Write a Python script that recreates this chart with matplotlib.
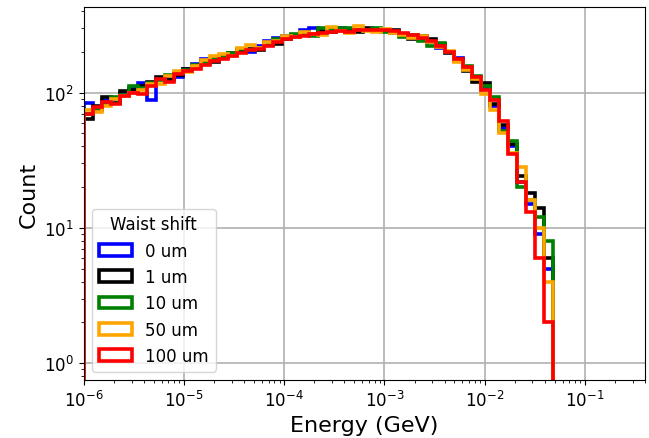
import numpy as np
import matplotlib
matplotlib.use("Agg")
import matplotlib.pyplot as plt

# bin edges (log spaced energy, GeV)
n_bins = 52
e_min, e_max = 1e-6, 0.048
edges = np.logspace(np.log10(e_min), np.log10(e_max), n_bins + 1)

labels = ["0 um", "1 um", "10 um", "50 um", "100 um"]
colors = ["blue", "black", "green", "orange", "red"]

counts_0 = [84, 74, 88, 90, 100, 108, 118, 88, 125, 128, 130, 150, 162, 178, 176, 182,
            190, 205, 200, 222, 240, 255, 262, 268, 290, 300, 285, 298, 300, 282, 290, 295,
            288, 290, 282, 272, 262, 250, 236, 215, 198, 180, 150, 128, 108, 80, 55, 40,
            22, 15, 9, 5]
counts_1 = [64, 80, 92, 84, 102, 104, 112, 120, 130, 124, 136, 150, 158, 170, 168, 182,
            195, 200, 210, 208, 226, 230, 250, 262, 268, 272, 290, 282, 292, 296, 280, 300,
            292, 285, 288, 270, 248, 262, 250, 228, 196, 176, 145, 120, 118, 82, 58, 42,
            24, 18, 14, 6]
counts_2 = [70, 76, 84, 92, 96, 112, 108, 118, 124, 134, 140, 148, 160, 166, 178, 188,
            195, 210, 206, 215, 232, 248, 255, 270, 276, 262, 300, 294, 302, 300, 290, 288,
            298, 280, 276, 258, 268, 242, 220, 232, 200, 170, 158, 132, 112, 92, 52, 44,
            20, 16, 12, 8]
counts_3 = [74, 72, 80, 90, 94, 100, 104, 116, 116, 132, 145, 142, 158, 175, 186, 192,
            188, 215, 225, 212, 238, 240, 262, 258, 280, 272, 268, 305, 285, 278, 312, 286,
            282, 295, 276, 265, 255, 264, 238, 218, 202, 168, 148, 125, 98, 74, 50, 36,
            28, 16, 10, 4]
counts_4 = [70, 78, 85, 82, 95, 100, 98, 112, 125, 120, 138, 145, 150, 160, 170, 178,
            185, 195, 205, 210, 222, 235, 250, 258, 262, 270, 275, 282, 285, 280, 288, 290,
            292, 288, 285, 278, 268, 255, 240, 222, 200, 178, 155, 130, 105, 88, 62, 35,
            22, 13, 6, 2]
series = [counts_0, counts_1, counts_2, counts_3, counts_4]

fig = plt.figure(figsize=(6.49, 4.39), dpi=100)
ax = fig.add_axes([0.129, 0.132, 0.865, 0.85])

centers = np.sqrt(edges[:-1] * edges[1:])
for vals, lab, col in zip(series, labels, colors):
    ax.hist(centers, bins=edges, weights=vals, histtype="step",
            color=col, linewidth=2.6, label=lab)

ax.set_xscale("log")
ax.set_yscale("log")
ax.set_xlim(1e-6, 0.4)
ax.set_ylim(0.75, 430)
ax.grid(True, which="major", color="#b0b0b0", linewidth=1.2)
ax.set_axisbelow(True)
ax.tick_params(labelsize=12)
ax.set_xlabel("Energy (GeV)", fontsize=16)
ax.set_ylabel("Count", fontsize=16)
ax.legend(title="Waist shift", loc="lower left", fontsize=12, title_fontsize=12)

fig.savefig("out.png", dpi=100)
